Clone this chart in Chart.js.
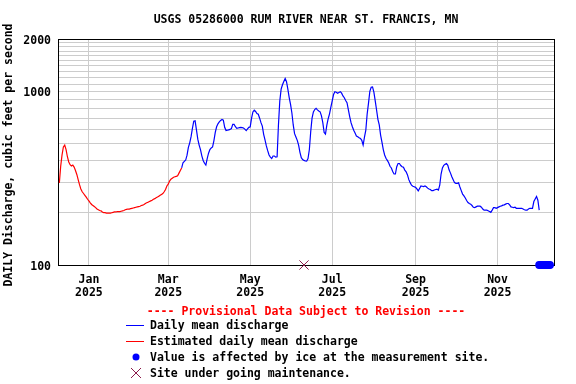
<!DOCTYPE html>
<html>
<head>
<meta charset="utf-8">
<title>USGS 05286000 RUM RIVER NEAR ST. FRANCIS, MN</title>
<script src="https://cdn.jsdelivr.net/npm/chart.js@4.4.1/dist/chart.umd.min.js"></script>
<style>
    html, body { margin: 0; padding: 0; background: #fff; }
    #wrap { width: 576px; height: 384px; }
</style>
</head>
<body>
<div id="wrap"><canvas id="flowChart" width="576" height="384"></canvas></div>
<script>
// Days are counted from 2025-01-01 (day 0)
var xMinDay = -23;
var xMaxDay = 346;

// x ticks: every second month
var monthTickDays = [0, 59, 120, 181, 243, 304];
var monthTickLabels = [['Jan', '2025'], ['Mar', '2025'], ['May', '2025'], ['Jul', '2025'], ['Sep', '2025'], ['Nov', '2025']];

// y gridlines and labelled values (cfs, log scale)
var yGridValues = [100, 200, 300, 400, 500, 600, 700, 800, 900, 1000,
    1100, 1200, 1300, 1400, 1500, 1600, 1700, 1800, 1900, 2000];
var yLabelValues = [100, 1000, 2000];

// Estimated daily mean discharge, one value per day from estStartDay
var estStartDay = -22;
var estFlow = [
    297, 370, 430, 478, 490, 462, 420, 392, 378, 372,
    376, 366, 350, 332, 310, 290, 274, 264, 258, 252,
    246, 239, 234, 228, 223, 220, 217, 214, 210, 208,
    206, 205, 202, 200, 200, 199, 199, 199, 199, 200,
    201, 202, 202, 203, 203, 203, 204, 205, 206, 208,
    209, 210, 210, 211, 212, 213, 214, 215, 216, 217,
    218, 220, 221, 223, 226, 228, 230, 232, 234, 236,
    239, 241, 244, 246, 249, 252, 255, 258, 264, 272,
    285, 292, 304, 312, 316, 320, 322, 324, 326, 338,
    350, 362
];

// Daily mean discharge, one value per day from dailyStartDay
var dailyStartDay = 69;
var dailyFlow = [
    362, 388, 395, 402, 429, 475, 505, 548, 612, 673,
    676, 600, 530, 490, 462, 425, 400, 385, 376, 410,
    440, 462, 472, 478, 520, 580, 625, 650, 666, 680,
    688, 682, 620, 595, 597, 600, 603, 610, 645, 645,
    625, 612, 615, 618, 620, 618, 615, 606, 594, 608,
    620, 625, 700, 760, 778, 765, 745, 738, 700, 660,
    630, 565, 525, 485, 455, 430, 418, 410, 424, 424,
    418, 420, 640, 880, 1030, 1090, 1140, 1185, 1135, 1030,
    920, 840, 750, 640, 570, 545, 522, 490, 445, 415,
    405, 400, 397, 396, 410, 462, 585, 700, 760, 785,
    797, 782, 770, 762, 722, 660, 580, 567, 638, 695,
    742, 810, 880, 958, 995, 988, 975, 985, 995, 975,
    940, 918, 885, 860, 785, 715, 660, 625, 597, 575,
    553, 548, 540, 535, 522, 490, 545, 597, 740, 855,
    1000, 1055, 1060, 990, 880, 780, 690, 640, 560, 510,
    462, 430, 412, 400, 388, 370, 362, 345, 334, 334,
    368, 384, 384, 374, 368, 365, 352, 344, 330, 310,
    298, 288, 284, 282, 280, 274, 267, 276, 285, 284,
    283, 285, 282, 277, 274, 272, 268, 268, 270, 272,
    273, 270, 288, 334, 362, 375, 380, 384, 375, 352,
    338, 322, 310, 298, 295, 295, 297, 281, 268, 256,
    250, 243, 235, 229, 226, 224, 220, 215, 214, 216,
    218, 218, 218, 215, 210, 207, 207, 207, 205, 203,
    201, 207, 214, 214, 212, 214, 216, 218, 219, 221,
    222, 224, 226, 226, 222, 216, 215, 214, 215, 212,
    212, 212, 212, 212, 210, 208, 207, 207, 210, 212,
    212, 212, 232, 240, 248, 236, 207
];

// Ice-affected days, plotted on the bottom axis
var iceDays = [335, 336, 337, 338, 339, 340, 341, 342, 343];
var iceFlow = [100, 100, 100, 100, 100, 100, 100, 100, 100];

// Site maintenance
var maintDays = [160];
var maintFlow = [100];

var titleText = 'USGS 05286000 RUM RIVER NEAR ST. FRANCIS, MN';
var yTitleText = 'DAILY Discharge, cubic feet per second';
var provisionalText = '---- Provisional Data Subject to Revision ----';
var legendLabels = [
    'Daily mean discharge',
    'Estimated daily mean discharge',
    'Value is affected by ice at the measurement site.',
    'Site under going maintenance.'
];

var FONT = '"DejaVu Sans Mono", monospace';
var BLUE = '#0000ff';
var RED = '#ff0000';
var MAINT = '#8b1a4a';

function seriesFrom(startDay, values) {
    return values.map(function (v, i) { return { x: startDay + i, y: v }; });
}
function pairs(days, values) {
    return days.map(function (d, i) { return { x: d, y: values[i] }; });
}

// Frame, titles and the legend block under the plot
var frameAndLegend = {
    id: 'frameAndLegend',
    beforeDatasetsDraw: function (chart) {
        var a = chart.chartArea, ctx = chart.ctx;
        ctx.save();
        ctx.strokeStyle = '#000';
        ctx.lineWidth = 1;
        ctx.strokeRect(a.left + 0.5, a.top + 0.5, a.right - a.left, a.bottom - a.top);
        ctx.restore();
    },
    afterDraw: function (chart) {
        var ctx = chart.ctx;
        ctx.save();
        ctx.font = 'bold 11.5px ' + FONT;
        ctx.fillStyle = '#000';
        ctx.textAlign = 'center';
        ctx.textBaseline = 'alphabetic';
        ctx.fillText(titleText, 306, 23);

        ctx.save();
        ctx.translate(12, 155);
        ctx.rotate(-Math.PI / 2);
        ctx.fillText(yTitleText, 0, 0);
        ctx.restore();

        ctx.fillStyle = RED;
        ctx.fillText(provisionalText, 306, 315);

        ctx.textAlign = 'left';
        ctx.fillStyle = '#000';
        var rows = [325, 341, 357, 373];
        legendLabels.forEach(function (label, i) {
            ctx.fillText(label, 150, rows[i] + 4);
        });

        ctx.lineWidth = 1;
        ctx.strokeStyle = BLUE;
        ctx.beginPath(); ctx.moveTo(126, rows[0] + 0.5); ctx.lineTo(144, rows[0] + 0.5); ctx.stroke();
        ctx.strokeStyle = RED;
        ctx.beginPath(); ctx.moveTo(126, rows[1] + 0.5); ctx.lineTo(144, rows[1] + 0.5); ctx.stroke();

        ctx.fillStyle = BLUE;
        ctx.beginPath(); ctx.arc(136, rows[2], 3.5, 0, Math.PI * 2); ctx.fill();

        ctx.strokeStyle = MAINT;
        ctx.beginPath();
        ctx.moveTo(131, rows[3] - 5); ctx.lineTo(141, rows[3] + 5);
        ctx.moveTo(141, rows[3] - 5); ctx.lineTo(131, rows[3] + 5);
        ctx.stroke();
        ctx.restore();
    }
};

new Chart(document.getElementById('flowChart'), {
    type: 'line',
    data: {
        datasets: [{
            label: 'Estimated daily mean discharge',
            data: seriesFrom(estStartDay, estFlow),
            borderColor: RED,
            borderWidth: 1.2,
            pointRadius: 0,
            tension: 0
        }, {
            label: 'Daily mean discharge',
            data: seriesFrom(dailyStartDay, dailyFlow),
            borderColor: BLUE,
            borderWidth: 1.2,
            pointRadius: 0,
            tension: 0
        }, {
            label: 'Ice affected',
            data: pairs(iceDays, iceFlow),
            showLine: false,
            pointStyle: 'circle',
            pointRadius: 4,
            pointBackgroundColor: BLUE,
            pointBorderWidth: 0,
            clip: false
        }, {
            label: 'Maintenance',
            data: pairs(maintDays, maintFlow),
            showLine: false,
            pointStyle: 'crossRot',
            pointRadius: 6.5,
            pointBorderColor: MAINT,
            pointBorderWidth: 1,
            clip: false
        }]
    },
    options: {
        responsive: false,
        animation: false,
        devicePixelRatio: 1,
        events: [],
        layout: { padding: { top: 39, right: 22, left: 0, bottom: 0 } },
        plugins: {
            legend: { display: false },
            title: { display: false },
            tooltip: { enabled: false }
        },
        scales: {
            x: {
                type: 'linear',
                min: xMinDay,
                max: xMaxDay,
                afterBuildTicks: function (scale) {
                    scale.ticks = monthTickDays.map(function (d) { return { value: d }; });
                },
                afterFit: function (scale) { scale.height = 119; },
                grid: { color: '#cccccc', lineWidth: 1, drawTicks: false },
                border: { color: '#000', width: 1 },
                ticks: {
                    autoSkip: false,
                    maxRotation: 0,
                    padding: 9,
                    color: '#000',
                    font: { family: FONT, weight: 'bold', size: 11.5, lineHeight: '13px' },
                    callback: function (v, i) { return monthTickLabels[i]; }
                }
            },
            y: {
                type: 'logarithmic',
                min: 100,
                max: 2000,
                afterBuildTicks: function (scale) {
                    scale.ticks = yGridValues.map(function (v) { return { value: v }; });
                },
                afterFit: function (scale) { scale.width = 58; },
                grid: { color: '#cccccc', lineWidth: 1, drawTicks: false },
                border: { color: '#000', width: 1 },
                ticks: {
                    autoSkip: false,
                    padding: 7,
                    labelOffset: 2,
                    color: '#000',
                    font: { family: FONT, weight: 'bold', size: 11.5 },
                    callback: function (v) { return yLabelValues.indexOf(v) >= 0 ? String(v) : ''; }
                }
            }
        }
    },
    plugins: [frameAndLegend]
});
</script>
</body>
</html>
